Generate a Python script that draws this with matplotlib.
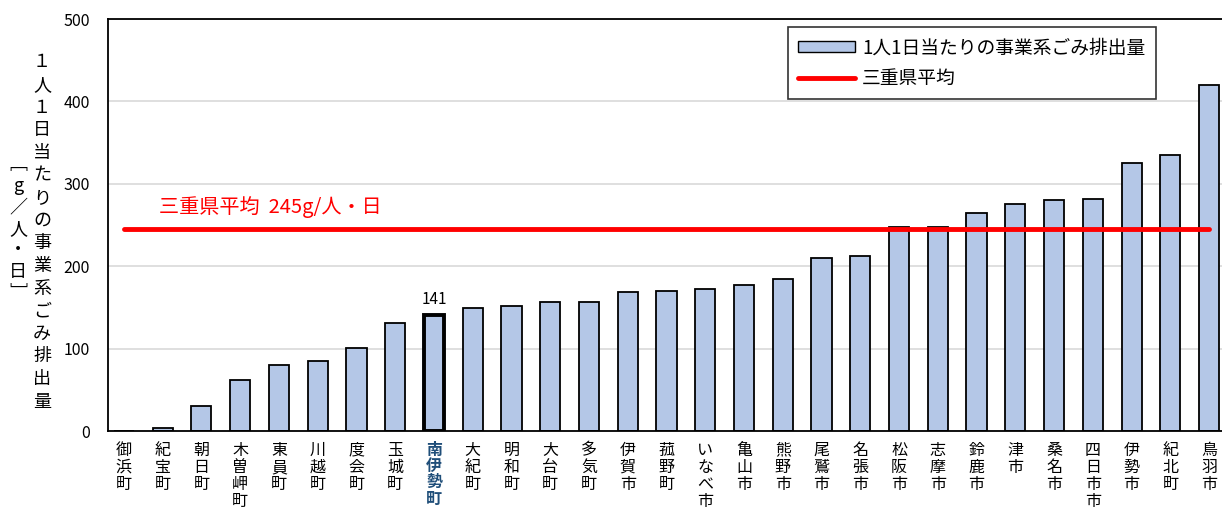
import matplotlib
matplotlib.use("Agg")
import matplotlib.pyplot as plt
from matplotlib.patches import Patch
from matplotlib.lines import Line2D

plt.rcParams['font.family'] = ['Noto Sans CJK JP', 'DejaVu Sans']

towns = ['御浜町', '紀宝町', '朝日町', '木曽岬町', '東員町', '川越町', '度会町', '玉城町',
         '南伊勢町', '大紀町', '明和町', '大台町', '多気町', '伊賀市', '菰野町', 'いなべ市',
         '亀山市', '熊野市', '尾鷲市', '名張市', '松阪市', '志摩市', '鈴鹿市', '津市',
         '桑名市', '四日市市', '伊勢市', '紀北町', '鳥羽市']
values = [0, 4, 30, 62, 80, 85, 101, 131, 141, 149, 152, 157, 157, 169, 170, 172,
          177, 184, 210, 212, 247, 247, 265, 275, 280, 282, 325, 335, 420]
pref_avg = 245
highlight = '南伊勢町'
bar_color = '#b4c7e7'

fig = plt.figure(figsize=(12.22, 5.2), dpi=100)
ax = fig.add_axes([108 / 1222, 1 - 431 / 520, 1117 / 1222, 412 / 520])

x = list(range(len(towns)))
bars = ax.bar(x, values, width=0.52, color=bar_color, edgecolor='black', linewidth=1.3, zorder=2)
hi = towns.index(highlight)
bars[hi].set_linewidth(2.8)
ax.text(hi, values[hi] + 8, str(values[hi]), ha='center', va='bottom', fontsize=11)

ax.plot([0, len(towns) - 1], [pref_avg, pref_avg], color='#ff0000', lw=3.5,
        solid_capstyle='round', zorder=3)
ax.text(0.9, pref_avg + 14, '三重県平均  245g/人・日', color='#ff0000', fontsize=14.5,
        va='bottom', ha='left')

ax.set_xlim(-0.41, len(towns) - 1 + 0.41)
ax.set_ylim(0, 500)
ax.set_yticks([0, 100, 200, 300, 400, 500])
ax.tick_params(axis='y', length=0, labelsize=11.5, pad=13)
ax.yaxis.grid(True, color='#d9d9d9', lw=1.2, zorder=0)
ax.set_axisbelow(True)
for s in ['top', 'left', 'bottom']:
    ax.spines[s].set_linewidth(1.3)
ax.spines['right'].set_visible(False)

ax.set_xticks(x)
ax.set_xticklabels([])
ax.tick_params(axis='x', length=0)
for i, t in enumerate(towns):
    ax.text(i, -13, '\n'.join(t), transform=ax.transData, ha='center', va='top',
            fontsize=11.5, linespacing=1.02,
            color='#1f4e79' if t == highlight else 'black',
            fontweight='bold' if t == highlight else 'normal')

ylabel = '１人１日当たりの事業系ごみ排出量'
fig.text(42 / 1222, 1 - 232 / 520, '\n'.join(ylabel), ha='center', va='center',
         fontsize=13, linespacing=1.33)
unit = ['﹇', 'g', '／', '人', '・', '日', '﹈']
fig.text(18 / 1222, 1 - 229 / 520, '\n'.join(unit), ha='center', va='center',
         fontsize=13, linespacing=1.24)

handles = [Patch(facecolor=bar_color, edgecolor='black', lw=1.0),
           Line2D([0], [0], color='#ff0000', lw=3.5, solid_capstyle='round')]
leg = ax.legend(handles, ['1人1日当たりの事業系ごみ排出量', '三重県平均'],
                loc='upper left', bbox_to_anchor=(680 / 1117, 1 - 8 / 412),
                borderaxespad=0, fontsize=13.5, frameon=True, fancybox=False,
                edgecolor='black', borderpad=0.55, handlelength=3.0, handleheight=0.55,
                labelspacing=0.5, handletextpad=0.4)
leg.get_frame().set_linewidth(1.2)

fig.savefig('out.png', dpi=100)
